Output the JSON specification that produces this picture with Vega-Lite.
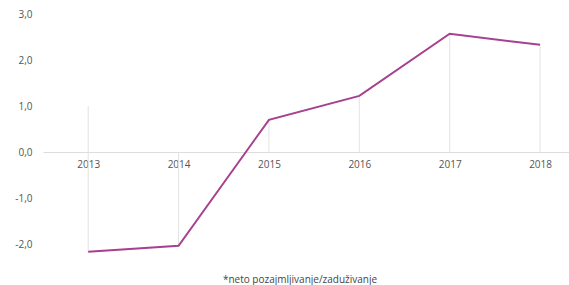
{
  "$schema": "https://vega.github.io/schema/vega-lite/v6.json",
  "autosize": "none",
  "width": 526,
  "height": 253,
  "padding": {"left": 43, "top": 14, "right": 0, "bottom": 18},
  "background": "white",
  "config": {"view": {"stroke": null}, "font": "Open Sans"},
  "title": {"text": "*neto pozajmljivanje/zaduživanje", "orient": "bottom", "anchor": "middle", "fontSize": 10, "fontWeight": "normal", "color": "#444", "offset": 8, "dx": -6, "font": "Open Sans"},
  "data": {"values": [
    {"year": 2013, "value": -2.17, "top": 1.0},
    {"year": 2014, "value": -2.04, "top": 0},
    {"year": 2015, "value": 0.70, "top": 0},
    {"year": 2016, "value": 1.22, "top": 0},
    {"year": 2017, "value": 2.57, "top": 0},
    {"year": 2018, "value": 2.33, "top": 0}
  ]},
  "layer": [
    {
      "mark": {"type": "rule", "color": "#e3e3e3", "strokeWidth": 1},
      "encoding": {
        "x": {"field": "year", "type": "quantitative", "scale": {"domain": [2012.5, 2018.32], "nice": false, "zero": false},
          "axis": {"offset": -115, "values": [2013, 2014, 2015, 2016, 2017, 2018], "format": "d", "ticks": false, "grid": false, "domainColor": "#dddddd", "domainWidth": 1, "labelColor": "#555", "labelFontSize": 10, "labelPadding": 7, "title": null}},
        "y": {"field": "top", "type": "quantitative", "scale": {"domain": [-2.5, 3], "nice": false},
          "axis": {"values": [-2, -1, 0, 1, 2, 3], "domain": false, "ticks": false, "grid": false, "labelColor": "#555", "labelFontSize": 10, "labelPadding": 11, "labelExpr": "replace(replace(format(datum.value, '.1f'), '.', ','), '\u2212', '-')", "title": null}},
        "y2": {"field": "value"}
      }
    },
    {
      "mark": {"type": "line", "color": "#a6408f", "strokeWidth": 2},
      "encoding": {
        "x": {"field": "year", "type": "quantitative"},
        "y": {"field": "value", "type": "quantitative"}
      }
    }
  ]
}
